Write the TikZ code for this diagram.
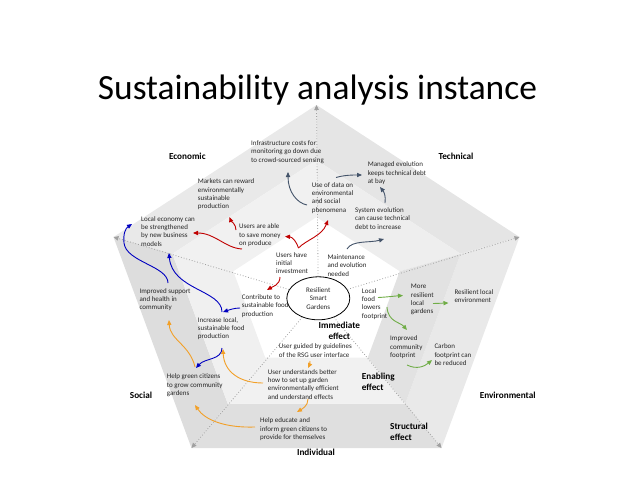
\documentclass[tikz,border=0pt]{standalone}
\usepackage{fontspec}
\setmainfont{Carlito}
\usepackage{tikz}
\usetikzlibrary{arrows.meta, calc, shapes.geometric}
\definecolor{techcol}{RGB}{68,84,106}
\definecolor{econcol}{RGB}{192,0,0}
\definecolor{soccol}{RGB}{0,0,192}
\definecolor{indcol}{RGB}{242,160,40}
\definecolor{envcol}{RGB}{112,173,71}
\definecolor{axisgray}{RGB}{160,160,160}
\definecolor{txtcol}{RGB}{38,38,38}
\tikzset{
  notebox/.style={font=\fontsize{7}{8.4}\selectfont, text=txtcol, align=left,
    anchor=north west, inner sep=0pt},
  dimlabel/.style={font=\fontsize{9.2}{10.4}\selectfont\bfseries, align=left, inner sep=0pt},
  axisline/.style={draw=axisgray, dotted, line width=0.8pt, -{Triangle[length=5pt,width=4.5pt]}},
  flow/.style={line width=0.9pt, -{Triangle[length=5pt,width=4.2pt]}},
  techflow/.style={flow, draw=techcol, fill=none},
  econflow/.style={flow, draw=econcol},
  socflow/.style={flow, draw=soccol},
  indflow/.style={flow, draw=indcol},
  envflow/.style={flow, draw=envcol},
}
\begin{document}
\begin{tikzpicture}[x=1pt, y=-1pt]
  \useasboundingbox (0,0) rectangle (638,493);

  \node[font=\fontsize{35.4}{40}\selectfont, anchor=base] (title) at (317.5,99) {Sustainability analysis instance};

  \coordinate (ctr) at (316.5,295);
  \coordinate (oT) at (316.5,105);
  \coordinate (oR) at (519.5,237);
  \coordinate (oBR) at (441.5,448);
  \coordinate (oBL) at (191.5,448);
  \coordinate (oL) at (113.5,237);
  \foreach \v in {T,R,BR,BL,L} {
    \coordinate (m\v) at ($(ctr)!0.71!(o\v)$);
    \coordinate (i\v) at ($(ctr)!0.41!(o\v)$);
  }
  \foreach \a/\b/\po/\pm in {T/L/8.5/5.5, T/R/10/6.5, R/BR/8.5/11.5, BR/BL/12.5/5.5, BL/L/13.5/6} {
    \fill[black!\po] (o\a) -- (o\b) -- (m\b) -- (m\a) -- cycle;
    \fill[black!\pm] (m\a) -- (m\b) -- (i\b) -- (i\a) -- cycle;
  }

  \node[draw, ellipse, fill=white, line width=0.8pt, minimum width=63, minimum height=43,
    inner sep=0pt, align=center, font=\fontsize{7}{8.4}\selectfont, text=txtcol] (rsg) at (318.3,298.3) {Resilient\\Smart\\Gardens};
  \foreach \v in {T,R,BR,BL,L}
    \draw[axisline] (rsg) -- (o\v);

  \node[dimlabel] (econ) at (187.3,156) {Economic};
  \node[dimlabel] (tech) at (456,156) {Technical};
  \node[dimlabel] (soc) at (141,395.3) {Social};
  \node[dimlabel] (env) at (507.7,395.3) {Environmental};
  \node[dimlabel] (indiv) at (316,452.7) {Individual};
  \node[dimlabel, align=center] (immediate) at (339.3,331) {Immediate\\effect};
  \node[dimlabel, anchor=west] (enabling) at (361.7,382) {Enabling\\effect};
  \node[dimlabel, anchor=west] (structural) at (390,431.7) {Structural\\effect};

  \node[notebox] (infra) at (251,140.3) {Infrastructure costs for\\monitoring go down due\\to crowd-sourced sensing};
  \node[notebox] (markets) at (197.7,178.7) {Markets can reward\\environmentally\\sustainable\\production};
  \node[notebox] (managed) at (367.7,161.7) {Managed evolution\\keeps technical debt\\at bay};
  \node[notebox] (usedata) at (311.7,182) {Use of data on\\environmental\\and social\\phenomena};
  \node[notebox] (sysevo) at (355,207.3) {System evolution\\can cause technical\\debt to increase};
  \node[notebox] (localeco) at (141,216) {Local economy can\\be strengthened\\by new business\\models};
  \node[notebox] (saving) at (239,223.7) {Users are able\\to save money\\on produce};
  \node[notebox] (invest) at (276,252) {Users have\\initial\\investment};
  \node[notebox] (maint) at (327.3,254.3) {Maintenance\\and evolution\\needed};
  \node[notebox] (health) at (139.3,288) {Improved support\\and health in\\community};
  \node[notebox] (contrib) at (241.7,294.3) {Contribute to\\sustainable food\\production};
  \node[notebox] (lowfood) at (361.7,288) {Local\\food\\lowers\\footprint};
  \node[notebox] (moreres) at (410.7,284) {More\\resilient\\local\\gardens};
  \node[notebox] (resenv) at (454.3,289.3) {Resilient local\\environment};
  \node[notebox] (increase) at (197.7,317) {Increase local,\\sustainable food\\production};
  \node[notebox] (guided) at (278.7,343.7) {User guided by guidelines\\of the RSG user interface};
  \node[notebox] (impfoot) at (390,335.7) {Improved\\community\\footprint};
  \node[notebox] (carbon) at (434.3,343.7) {Carbon\\footprint can\\be reduced};
  \node[notebox] (underst) at (267.7,369) {User understands better\\how to set up garden\\environmentally efficient\\and understand effects};
  \node[notebox] (helpgreen) at (166.7,373.7) {Help green citizens\\to grow community\\gardens};
  \node[notebox] (educate) at (260,417.7) {Help educate and\\inform green citizens to\\provide for themselves};

  \coordinate (fork) at (298.5,248);

  \draw[techflow] (307,205) .. controls (297,203) and (288,192) .. (288,172);
  \draw[techflow] (336,177.5) .. controls (345,175) and (352,175) .. (362,175);
  \draw[techflow] (385,203) .. controls (386,196) and (384,192) .. (380,187);
  \draw[techflow] (347,249) .. controls (352,240) and (370,243) .. (384,239);

  \draw[econflow] (fork) .. controls (297,243) and (293,237) .. (285,236.5);
  \draw[econflow] (fork) .. controls (306,240) and (322,236) .. (328,220);
  \draw[econflow] (242,249) .. controls (225,248) and (215,233) .. (193,233);
  \draw[econflow] (236,230) .. controls (236,224) and (231,221) .. (229.5,217);
  \draw[econflow] (280,277) .. controls (280,285) and (272,287) .. (267,290);

  \draw[socflow] (168,283) .. controls (168,266) and (126,262) .. (124,243) .. controls (123,233) and (126,228) .. (132,224);
  \draw[socflow] (222,312) .. controls (222,290) and (172,290) .. (169,253);
  \draw[socflow] (240,308) .. controls (234,308) and (229,310) .. (223,312);
  \draw[socflow] (222,348) .. controls (222,360) and (205,358) .. (196,368);

  \draw[indflow] (195,367) .. controls (190,345) and (170,340) .. (169,320);
  \draw[indflow] (263,383) .. controls (240,383) and (224,372) .. (223,349);
  \draw[indflow] (310,361) .. controls (310,364) and (309,366) .. (308,368);
  \draw[indflow] (308,399) .. controls (308,406) and (302,409) .. (297,412);
  \draw[indflow] (255,427) .. controls (225,428) and (205,420) .. (195,405);

  \draw[envflow] (378,297.5) .. controls (388,297) and (395,296) .. (403,295.5);
  \draw[envflow] (433,303.5) -- (448.5,303);
  \draw[envflow] (387,307) .. controls (388,322) and (400,322) .. (407,330);
  \draw[envflow] (407,365) .. controls (417,370) and (425,366) .. (432,360);
\end{tikzpicture}
\end{document}
